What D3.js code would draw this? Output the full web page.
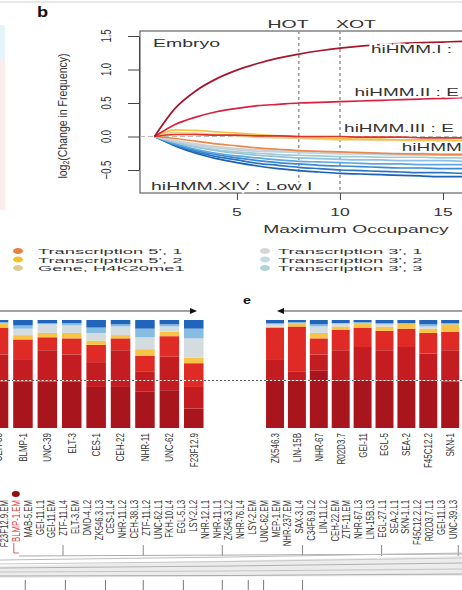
<!DOCTYPE html>
<html><head><meta charset="utf-8">
<script src="https://cdn.jsdelivr.net/npm/d3@7"></script>
<style>
html,body{margin:0;padding:0;background:#fff;}
svg{display:block;font-family:"Liberation Sans",Arial,sans-serif;}
</style></head>
<body>
<svg id="chart" width="462" height="590"></svg>
<script>
// ---------- Panel b data ----------
const occupancy = [1,2,3,4,5,6,7,8,9,10,11,12,13,14,15,16,17];
const stateI   = [0,0.42,0.68,0.86,0.99,1.09,1.17,1.23,1.28,1.32,1.35,1.37,1.39,1.40,1.41,1.42,1.42];
const stateII  = [0,0.18,0.29,0.37,0.42,0.46,0.48,0.50,0.51,0.52,0.53,0.54,0.55,0.56,0.57,0.58,0.58];
const stateIII = [0,0.03,0.03,0.02,0.02,0.01,0.01,0.00,0.00,0.00,-0.01,-0.01,-0.01,-0.02,-0.02,-0.02,-0.02];
const tx5b     = [0,0.10,0.09,0.07,0.05,0.03,0.01,-0.01,-0.02,-0.03,-0.04,-0.04,-0.05,-0.05,-0.05,-0.06,-0.06];
const geneH4   = [0,0.06,0.05,0.03,0.01,-0.01,-0.02,-0.03,-0.04,-0.05,-0.05,-0.06,-0.06,-0.07,-0.07,-0.07,-0.07];
const tx5a     = [0,-0.03,-0.07,-0.11,-0.14,-0.17,-0.19,-0.21,-0.22,-0.23,-0.24,-0.25,-0.26,-0.26,-0.27,-0.27,-0.27];
const tx3a     = [0,-0.06,-0.11,-0.15,-0.18,-0.20,-0.21,-0.22,-0.23,-0.24,-0.24,-0.25,-0.25,-0.25,-0.26,-0.26,-0.26];
const tx3b     = [0,-0.07,-0.13,-0.17,-0.20,-0.22,-0.23,-0.24,-0.25,-0.26,-0.26,-0.27,-0.27,-0.28,-0.28,-0.28,-0.28];
const tx3c     = [0,-0.08,-0.15,-0.20,-0.23,-0.25,-0.27,-0.28,-0.29,-0.30,-0.30,-0.31,-0.31,-0.31,-0.32,-0.32,-0.32];
const low1     = [0,-0.09,-0.16,-0.21,-0.25,-0.28,-0.30,-0.32,-0.33,-0.34,-0.35,-0.35,-0.36,-0.36,-0.36,-0.37,-0.37];
const low2     = [0,-0.11,-0.19,-0.25,-0.29,-0.32,-0.35,-0.37,-0.38,-0.39,-0.40,-0.41,-0.41,-0.42,-0.42,-0.42,-0.42];
const low3     = [0,-0.12,-0.21,-0.27,-0.32,-0.36,-0.39,-0.41,-0.43,-0.44,-0.45,-0.46,-0.47,-0.47,-0.48,-0.48,-0.48];
const low4     = [0,-0.13,-0.23,-0.30,-0.35,-0.40,-0.43,-0.46,-0.48,-0.50,-0.51,-0.52,-0.53,-0.54,-0.54,-0.55,-0.55];
const low5     = [0,-0.14,-0.25,-0.33,-0.39,-0.44,-0.48,-0.51,-0.53,-0.55,-0.56,-0.57,-0.58,-0.59,-0.60,-0.60,-0.61];
const lineSeries = [low5,low4,low3,low2,low1,tx3c,tx3b,tx3a,geneH4,tx5a,tx5b,stateIII,stateII,stateI];
const lineColors = ["#1d5fb0","#2a74c4","#3a8ad2","#5ea6dc","#8dc1e3","#a3cbd5","#bdd3df","#cfcfcf","#e3cf96","#ea8a4a","#f5c341","#e0302a","#d6223f","#a3162b"];
const yTicks = [-0.5,0,0.5,1,1.5];
const xTicks = [5,10,15];
const markers = [{name:"HOT",x:8,lx:288},{name:"XOT",x:10,lx:356}];
const curveLabels = [
  {text:"hiHMM.I :", x:11.5, y:1.24},
  {text:"hiHMM.II : E", x:10.7, y:0.61},
  {text:"hiHMM.III : E", x:10.2, y:0.07},
  {text:"hiHMM", x:13.0, y:-0.21}
];

// ---------- Legend ----------
const legendLeft  = ["Transcription 5', 1","Transcription 5', 2","Gene, H4K20me1"];
const legendLeftColors = ["#ea7d40","#f2c12e","#dccb95"];
const legendRight = ["Transcription 3', 1","Transcription 3', 2","Transcription 3', 3"];
const legendRightColors = ["#d6d6d6","#c7d9e3","#aed2d8"];

// ---------- Bars (d & e) ----------
const segKeys = ["darkest","dark","red","yellow","light","sky","blue"];
const segColors = ["#a8151d","#c31d22","#e02a25","#f7c445","#d5dcdf","#86bbe2","#2064bb"];
const dLabels = ["CEH-30","BLMP-1","UNC-39","ELT-3","CES-1","CEH-22","NHR-11","UNC-62","F23F12.9"];
const dSegments = [
  [43,25,25,4,0,1,2],
  [43,20,19,4,6,3,5],
  [43,29,12,4,8,1,3],
  [43,25,15,5,7,2,3],
  [38,23,16,4,7,5,7],
  [38,34,11,3,8,2,4],
  [34,18,15,6,11,8,8],
  [35,31,19,4,5,2,4],
  [18,20,22,5,18,9,8]
];
const eLabels = ["ZK546.3","LIN-15B","NHR-67","R02D3.7","GEI-11","EGL-5","SEA-2","F45C12.2","SKN-1"];
const eSegments = [
  [44,19,30,1,2,1,3],
  [44,8,42,3,0,1,2],
  [53,15,15,5,6,2,4],
  [44,28,19,3,3,0,3],
  [44,31,18,4,0,1,2],
  [44,28,18,4,2,1,3],
  [44,31,17,5,0,0,3],
  [44,25,19,4,2,2,4],
  [43,29,17,7,0,1,3]
];
const refLevel = 44;

// ---------- Lower label row ----------
const sampleLabels = ["F23F12.9.EM","BLMP-1.EM","MAB-5.EM","GEI-11.L1","GEI-11.EM","ZTF-11.L4","ELT-3.EM","DMD-4.L2","ZK546.3.L3","CES-1.L4","NHR-11.L2","CEH-38.L3","ZTF-11.L2","UNC-62.L1","FKH-10.L4","EGL-5.L3","LSY-2.L2","NHR-12.L1","NHR-11.L1","ZK546.3.L2","NHR-76.L4","LSY-2.EM","UNC-62.EM","MEP-1.EM","NHR-237.EM","SAX-3.L4","C34F6.9.L2","LIN-11.L2","CEH-22.EM","ZTF-11.EM","NHR-67.L3","LIN-15B.L3","EGL-27.L1","SEA-2.L1","SKN-1.L1","F45C12.2.L2","R02D3.7.L1","GEI-11.L3","UNC-39.L3"];
const highlighted = "BLMP-1.EM";
const bracketPos = [5,11.8,18.5,25.3,32,38.5];
const lowerTickPos = [1.8,5.2,8.6,11.8,15.2,18.5,20.7,22,25.3];

// ================= drawing =================
const svg = d3.select("#chart");
const TXT = "#333";

function txt(g, o){
  const t = `translate(${o.x},${o.y}) scale(${o.sx||1},1)` + (o.rot ? ` rotate(${o.rot})` : "");
  const el = g.append("text").attr("transform", t)
    .attr("font-size", o.size).attr("text-anchor", o.anchor||"start")
    .attr("fill", o.fill||TXT).attr("font-weight", o.weight||"normal")
    .text(o.text);
  if (o.dy) el.attr("dy", o.dy);
  return el;
}

svg.append("line").attr("x1",0).attr("x2",462).attr("y1",2).attr("y2",2).attr("stroke","#cfcfcf");
svg.append("rect").attr("x",0).attr("y",25).attr("width",5).attr("height",35).attr("fill","#e3f5fb");
svg.append("rect").attr("x",0).attr("y",60).attr("width",5).attr("height",150).attr("fill","#fdeaea");

// ---- Panel b ----
const gb = svg.append("g");
txt(gb,{x:37,y:17,text:"b",size:14,weight:"bold",sx:1.3,fill:"#111"});

const x = d3.scaleLinear().domain([1,15]).range([154.5,443]);
const y = d3.scaleLinear().domain([-0.5,1.5]).range([170,36]);
const boxTop = 31, boxBottom = 193, boxLeft = 140;

gb.append("rect").attr("x",boxLeft).attr("y",boxTop).attr("width",400).attr("height",boxBottom-boxTop)
  .attr("fill","none").attr("stroke","#444").attr("stroke-width",1);

gb.append("line").attr("x1",boxLeft).attr("x2",462).attr("y1",y(0)).attr("y2",y(0))
  .attr("stroke","#bbb").attr("stroke-dasharray","5,3").attr("stroke-width",1.2);

markers.forEach(m=>{
  gb.append("line").attr("x1",x(m.x)).attr("x2",x(m.x)).attr("y1",boxTop).attr("y2",boxBottom)
    .attr("stroke","#999").attr("stroke-dasharray","3,3").attr("stroke-width",1.6);
  txt(gb,{x:m.lx,y:28,text:m.name,size:10,sx:1.95,anchor:"middle"});
});

const line = d3.line().x((d,i)=>x(occupancy[i])).y(d=>y(d)).curve(d3.curveMonotoneX);
lineSeries.forEach((s,i)=>{
  gb.append("path").attr("d",line(s)).attr("fill","none")
    .attr("stroke",lineColors[i]).attr("stroke-width",1.7);
});

curveLabels.forEach(l=>{
  txt(gb,{x:x(l.x),y:y(l.y),text:l.text,size:10,sx:1.9})
    .attr("stroke","#fff").attr("stroke-width",3).attr("paint-order","stroke");
});
txt(gb,{x:153,y:47,text:"Embryo",size:10,sx:1.95});
txt(gb,{x:151,y:190,text:"hiHMM.XIV : Low I",size:10,sx:1.95})
  .attr("stroke","#fff").attr("stroke-width",3).attr("paint-order","stroke");

const yAxis = d3.axisLeft(y).tickValues(yTicks).tickSize(11).tickSizeOuter(0).tickFormat(d3.format(".1f"));
const gy = gb.append("g").attr("transform","translate(139,0)").call(yAxis);
gy.select(".domain").attr("stroke","#444");
gy.selectAll(".tick line").attr("stroke","#444");
gy.selectAll(".tick text").remove();
yTicks.forEach(v=>{
  txt(gb,{x:106,y:y(v),text:d3.format(".1f")(v).replace("-","\u2212"),size:9.5,sx:1.5,rot:-90,anchor:"middle",dy:"0.35em"});
});
const yt = gb.append("text").attr("transform","translate(62,116) scale(1.3,1) rotate(-90)")
  .attr("text-anchor","middle").attr("font-size",10.5).attr("fill",TXT).attr("dy","0.35em");
yt.append("tspan").text("log");
yt.append("tspan").attr("font-size",7).attr("dy","2").text("2");
yt.append("tspan").attr("dy","-2").text("(Change in Frequency)");

const xAxis = d3.axisBottom(x).tickValues(xTicks).tickSize(7).tickSizeOuter(0).tickFormat(d3.format("d"));
const gx = gb.append("g").attr("transform",`translate(0,${boxBottom})`).call(xAxis);
gx.select(".domain").remove();
gx.selectAll(".tick line").attr("stroke","#444");
gx.selectAll(".tick text").remove();
xTicks.forEach(v=>{
  txt(gb,{x:x(v),y:216,text:String(v),size:10,sx:1.75,anchor:"middle"});
});
txt(gb,{x:356,y:233,text:"Maximum Occupancy",size:10,sx:1.93,anchor:"middle"});

// ---- legend ----
const gl = svg.append("g");
function legendCol(items, colors, mx, tx){
  items.forEach((t,i)=>{
    const yy = 254 + i*8.5;
    gl.append("ellipse").attr("cx",mx).attr("cy",yy-3).attr("rx",5).attr("ry",3).attr("fill",colors[i]);
    txt(gl,{x:tx,y:yy,text:t,size:7.8,sx:2.35});
  });
}
legendCol(legendLeft, legendLeftColors, 18, 38);
legendCol(legendRight, legendRightColors, 265, 278);

// ---- bar panels ----
const yBar = d3.scaleLinear().domain([0,100]).range([428,320]);
const stack = d3.stack().keys(segKeys);

function drawBars(g, labels, segs, range, pad){
  const xb = d3.scaleBand().domain(labels).range(range).padding(pad);
  const rows = segs.map((s,i)=>{ const o={label:labels[i]}; segKeys.forEach((k,j)=>o[k]=s[j]); return o; });
  const series = stack(rows);
  g.selectAll("g.layer").data(series).join("g").attr("class","layer")
    .attr("fill",(d,i)=>segColors[i])
    .selectAll("rect").data(d=>d).join("rect")
      .attr("x",d=>xb(d.data.label)).attr("width",xb.bandwidth())
      .attr("y",d=>yBar(d[1])).attr("height",d=>Math.max(0,yBar(d[0])-yBar(d[1])));
  labels.forEach(l=>{
    g.append("line").attr("x1",xb(l)).attr("x2",xb(l)+xb.bandwidth())
      .attr("y1",yBar(refLevel)).attr("y2",yBar(refLevel))
      .attr("stroke","#fff").attr("stroke-width",1.2).attr("stroke-dasharray","2,2");
    txt(g,{x:xb(l)+xb.bandwidth()/2,y:433,text:l,size:8,sx:1.4,rot:-90,anchor:"end",dy:"0.35em"});
  });
  return xb;
}
const gd = svg.append("g");
gd.append("line").attr("x1",0).attr("x2",462).attr("y1",yBar(refLevel)).attr("y2",yBar(refLevel))
  .attr("stroke","#555").attr("stroke-width",1).attr("stroke-dasharray","2,2");
drawBars(gd, dLabels, dSegments, [-16.1,208.4], 0.2);
const ge = svg.append("g");
drawBars(ge, eLabels, eSegments, [262.1,463.1], 0.18);

svg.append("line").attr("x1",0).attr("x2",190).attr("y1",311).attr("y2",311).attr("stroke","#444").attr("stroke-width",1);
svg.append("path").attr("d","M190,308 L197,311 L190,314 Z").attr("fill","#111");
svg.append("line").attr("x1",284).attr("x2",462).attr("y1",311).attr("y2",311).attr("stroke","#444").attr("stroke-width",1);
svg.append("path").attr("d","M284,308 L277,311 L284,314 Z").attr("fill","#111");
txt(svg,{x:247,y:304,text:"e",size:11,weight:"bold",sx:1.3,anchor:"middle",fill:"#111"});

// ---- lower sample labels ----
const xs = d3.scaleLinear().domain([0,1]).range([4,15.8]);
const gs = svg.append("g");
sampleLabels.forEach((l,i)=>{
  const hl = l===highlighted;
  txt(gs,{x:xs(i),y:500,text:l,size:7.8,sx:1.5,rot:-90,anchor:"end",dy:"0.35em",fill:hl?"#e23636":"#333"});
  if (hl){
    gs.append("ellipse").attr("cx",xs(i)).attr("cy",494).attr("rx",4).attr("ry",3).attr("fill","#8e0f14");
    gs.append("path").attr("d",`M${xs(i)-2},543 L${xs(i)-2},553 L${xs(i)+3},553`).attr("fill","none").attr("stroke","#e25a5a");
  }
});
bracketPos.forEach(p=>{
  gs.append("line").attr("x1",xs(p)).attr("x2",xs(p)).attr("y1",545).attr("y2",556).attr("stroke","#888");
});
gs.append("line").attr("x1",xs(1)+3).attr("x2",462).attr("y1",556).attr("y2",554).attr("stroke","#aaa");
gs.append("path").attr("d","M0,566 Q230,560 462,556 L462,576 Q230,576 0,578 Z").attr("fill","#ececec");
[[560,553,"#bbb"],[564,558,"#c8c8c8"],[568,563,"#b0b0b0"],[572,569,"#c4c4c4"],[576,574,"#aaa"]].forEach(r=>{
  gs.append("path").attr("d",`M0,${r[0]} Q230,${(r[0]+r[1])/2+1} 462,${r[1]}`).attr("fill","none").attr("stroke",r[2]).attr("stroke-width",1);
});
lowerTickPos.forEach(p=>{
  gs.append("line").attr("x1",xs(p)).attr("x2",xs(p)).attr("y1",580).attr("y2",590).attr("stroke","#777");
});
</script>
</body></html>
